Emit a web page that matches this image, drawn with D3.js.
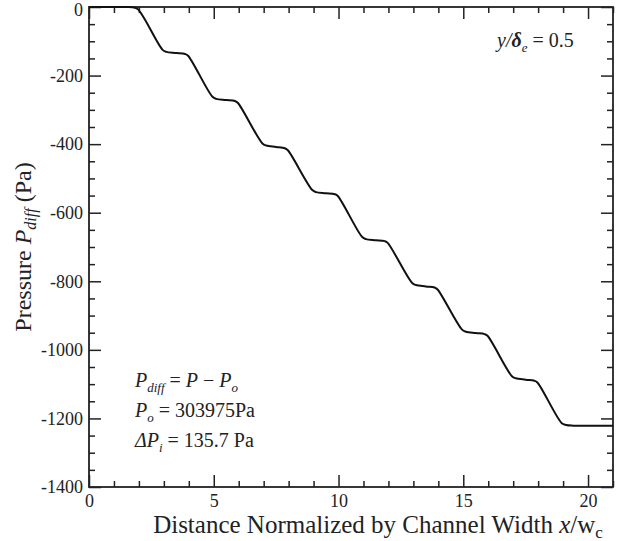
<!DOCTYPE html>
<html>
  <head>
    <style>
      body,
      html {
        margin: 0;
        padding: 0;
        background: #fff;
      }
    </style>
  </head>
  <body>
    <svg id="svg" width="621" height="541"></svg>

    <script src="https://cdn.jsdelivr.net/npm/d3@7"></script>
    <script>
      // distance x/wc and pressure Pdiff (Pa)
      const xValues = [
        0, 1.0, 1.5, 1.75, 1.95,
        2.95, 3.1, 3.5, 3.85, 3.97,
        4.95, 5.1, 5.5, 5.85, 5.97,
        6.95, 7.1, 7.5, 7.85, 7.97,
        8.95, 9.1, 9.5, 9.85, 9.97,
        10.95, 11.1, 11.5, 11.85, 11.97,
        12.95, 13.1, 13.5, 13.85, 13.97,
        14.95, 15.1, 15.5, 15.85, 15.97,
        16.95, 17.1, 17.5, 17.85, 17.97,
        18.95, 19.12, 19.4, 20, 21,
      ];
      const pressure = [
        0, 0, 0, -1, -6,
        -125, -131, -134, -137, -142,
        -262, -268, -271, -274, -280,
        -398, -404, -408, -412, -418,
        -534, -540, -543, -546, -551,
        -671, -677, -680, -683, -688,
        -805, -811, -815, -818, -824,
        -941, -947, -951, -954, -959,
        -1077, -1083, -1087, -1090, -1095,
        -1214, -1219, -1221, -1221.5, -1221.5,
      ];
      const xTicks = [0, 5, 10, 15, 20];
      const yTicks = [0, -200, -400, -600, -800, -1000, -1200, -1400];

      const font = 'Liberation Serif, Times New Roman, serif';
      const margin = { top: 7, right: 8, bottom: 54, left: 89 };
      const width = 621 - margin.left - margin.right;
      const height = 541 - margin.top - margin.bottom;

      const xScale = d3.scaleLinear().domain([0, 21]).range([margin.left, margin.left + width]);
      const yScale = d3.scaleLinear().domain([-1400, 0]).range([margin.top + height, margin.top]);

      const xMinor = d3.range(0, 22, 1).filter((d) => d % 5 !== 0);
      const yMinor = d3.range(0, -1401, -50).filter((d) => d % 200 !== 0);

      const svg = d3.select('#svg');

      const styleAxis = (g) => {
        g.attr('font-family', font).attr('font-size', 18);
        g.select('.domain').remove();
        g.selectAll('line').attr('stroke', '#222').attr('stroke-width', 1.5);
        g.selectAll('text').attr('fill', '#222');
      };

      // major + minor ticks on all four sides, pointing inward
      const addXAxes = (ticks, size, labels) => {
        svg.append('g')
          .attr('transform', `translate(0, ${margin.top + height})`)
          .call(d3.axisBottom(xScale).tickValues(ticks).tickSize(-size).tickPadding(7)
            .tickFormat(labels ? d3.format('d') : ''))
          .call(styleAxis);
        svg.append('g')
          .attr('transform', `translate(0, ${margin.top})`)
          .call(d3.axisTop(xScale).tickValues(ticks).tickSize(-size).tickFormat(''))
          .call(styleAxis);
      };
      const addYAxes = (ticks, size, labels) => {
        svg.append('g')
          .attr('transform', `translate(${margin.left}, 0)`)
          .call(d3.axisLeft(yScale).tickValues(ticks).tickSize(-size).tickPadding(6)
            .tickFormat(labels ? (d) => String(d) : ''))
          .call(styleAxis)
          .selectAll('text')
          .attr('dy', (d) => (d === 0 ? '0.45em' : '0.32em'));
        svg.append('g')
          .attr('transform', `translate(${margin.left + width}, 0)`)
          .call(d3.axisRight(yScale).tickValues(ticks).tickSize(-size).tickFormat(''))
          .call(styleAxis);
      };
      addXAxes(xTicks, 12, true);
      addXAxes(xMinor, 6, false);
      addYAxes(yTicks, 12, true);
      addYAxes(yMinor, 6, false);

      svg.append('rect')
        .attr('x', margin.left)
        .attr('y', margin.top)
        .attr('width', width)
        .attr('height', height)
        .attr('fill', 'none')
        .attr('stroke', '#222')
        .attr('stroke-width', 1.8);

      const line = d3.line()
        .x((d, i) => xScale(xValues[i]))
        .y((d) => yScale(d))
        .curve(d3.curveCatmullRom.alpha(0.5));

      svg.append('path')
        .datum(pressure)
        .attr('d', line)
        .attr('fill', 'none')
        .attr('stroke', '#111')
        .attr('stroke-width', 2);

      // axis titles
      const xTitle = svg.append('text')
        .attr('x', margin.left + width / 2 + 27)
        .attr('y', 533)
        .attr('text-anchor', 'middle')
        .attr('font-family', font)
        .attr('font-size', 25)
        .attr('fill', '#222');
      xTitle.append('tspan').text('Distance Normalized by Channel Width ');
      xTitle.append('tspan').attr('font-style', 'italic').text('x');
      xTitle.append('tspan').text('/w');
      xTitle.append('tspan').attr('font-size', 17).attr('dy', 5).text('c');

      const yTitle = svg.append('text')
        .attr('transform', `translate(31, ${margin.top + height / 2}) rotate(-90)`)
        .attr('text-anchor', 'middle')
        .attr('font-family', font)
        .attr('font-size', 24)
        .attr('fill', '#222');
      yTitle.append('tspan').text('Pressure ');
      yTitle.append('tspan').attr('font-style', 'italic').text('P');
      yTitle.append('tspan').attr('font-style', 'italic').attr('font-size', 16).attr('dy', 5).text('diff');
      yTitle.append('tspan').attr('dy', -5).text(' (Pa)');

      // annotations
      const note = (y, parts) => {
        const t = svg.append('text')
          .attr('x', 135)
          .attr('y', y)
          .attr('font-family', font)
          .attr('font-size', 20)
          .attr('fill', '#222');
        parts.forEach((p) => {
          const s = t.append('tspan').text(p.t);
          if (p.i) s.attr('font-style', 'italic');
          if (p.sub) s.attr('font-size', 13).attr('dy', 5);
          if (p.up) s.attr('dy', -5);
        });
      };
      note(387, [
        { t: 'P', i: true }, { t: 'diff', i: true, sub: true },
        { t: ' = ', up: true }, { t: 'P', i: true }, { t: ' \u2212 ' }, { t: 'P', i: true },
        { t: 'o', i: true, sub: true },
      ]);
      note(417, [
        { t: 'P', i: true }, { t: 'o', i: true, sub: true }, { t: ' = 303975Pa', up: true },
      ]);
      note(447, [
        { t: '\u0394P', i: true }, { t: 'i', i: true, sub: true }, { t: ' = 135.7 Pa', up: true },
      ]);

      const label = svg.append('text')
        .attr('x', 497)
        .attr('y', 47)
        .attr('font-family', font)
        .attr('font-size', 20)
        .attr('fill', '#222');
      label.append('tspan').attr('font-style', 'italic').text('y/');
      label.append('tspan').attr('font-style', 'italic').attr('font-weight', 'bold').text('\u03b4');
      label.append('tspan').attr('font-style', 'italic').attr('font-size', 13).attr('dy', 5).text('e');
      label.append('tspan').attr('dy', -5).text(' = 0.5');
    </script>
  </body>
</html>
